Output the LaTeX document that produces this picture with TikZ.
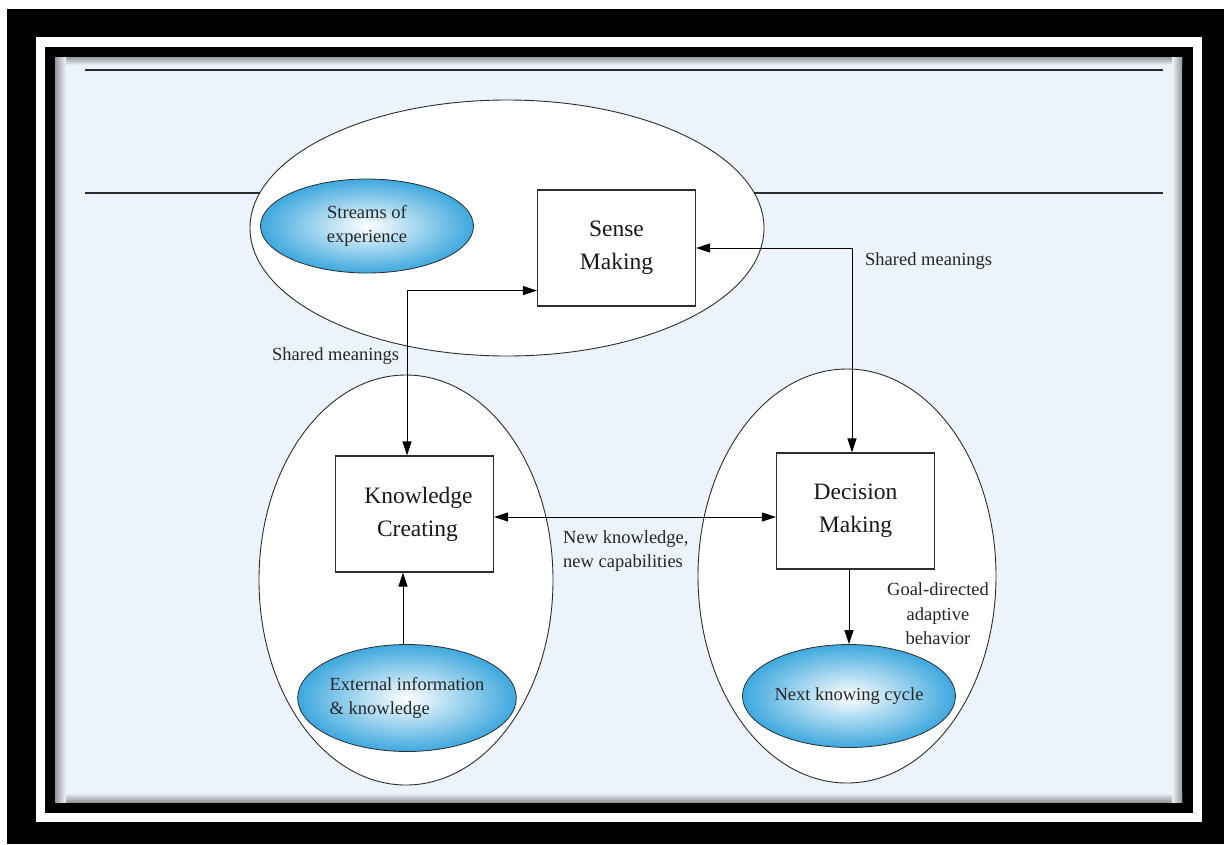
\documentclass[tikz,border=0pt]{standalone}
\usepackage{fontspec}
\setmainfont{Liberation Serif}
\usetikzlibrary{shapes.geometric,arrows.meta,calc}
\definecolor{bgblue}{RGB}{236,243,251}
\definecolor{ellblue}{RGB}{62,168,222}
\definecolor{linegray}{RGB}{45,45,45}
\definecolor{shadowgray}{RGB}{150,152,156}
\begin{document}
\begin{tikzpicture}[x=1pt,y=-1pt,
  bigell/.style={draw=linegray, line width=0.9pt, fill=white, ellipse, inner sep=0pt},
  smallell/.style={draw=linegray, line width=0.8pt, ellipse, inner sep=0pt, inner color=white, outer color=ellblue, font=\fontsize{18.5}{24.5}\selectfont, text=black!85},
  boxnode/.style={draw=linegray, line width=1.2pt, fill=white, minimum width=158pt, minimum height=116pt, inner sep=0pt, align=center, font=\fontsize{23.5}{33}\selectfont, text=black!90},
  lbl/.style={font=\fontsize{18.5}{24.5}\selectfont, inner sep=0pt, text=black!85},
  arr/.style={line width=1pt, draw=black, -{Triangle[length=14pt,width=9pt]}},
  darr/.style={line width=1pt, draw=black, {Triangle[length=14pt,width=9pt]}-{Triangle[length=14pt,width=9pt]}},
  rule/.style={draw=linegray, line width=1.4pt},
]
\useasboundingbox (0,0) rectangle (1224,844);
% frame
\fill[white] (0,0) rectangle (1224,844);
\fill[black] (7,9) rectangle (1224,844);
\fill[white] (36,37) rectangle (1202,822);
\fill[black] (45,47) rectangle (1193,813);
\fill[bgblue] (55,57) rectangle (1182,802);
\shade[top color=shadowgray, bottom color=bgblue] (55,57) rectangle (1182,65);
\shade[top color=bgblue, bottom color=shadowgray] (55,793) rectangle (1182,802);
\shade[left color=shadowgray, right color=bgblue] (55,57) rectangle (66,802);
\shade[left color=bgblue, right color=shadowgray] (1172,57) rectangle (1182,802);

% rules
\coordinate (r1a) at (85,70);
\coordinate (r1b) at (1163,70);
\coordinate (r2a) at (85,193);
\coordinate (r2b) at (1163,193);
\draw[rule] (r1a) -- (r1b);
\draw[rule] (r2a) -- (r2b);

% big ellipses
\node[bigell, minimum width=514pt, minimum height=256pt] (TE) at (507,228) {};
\node[bigell, minimum width=294pt, minimum height=410pt] (LE) at (406,580) {};
\node[bigell, minimum width=298pt, minimum height=414pt] (RE) at (847,576) {};

% small shaded ellipses
\node[smallell, minimum width=213pt, minimum height=94pt, align=center] (SE) at (367,226) {Streams of\\experience};
\node[smallell, minimum width=214pt, minimum height=107pt, align=left] (EX) at (407,698) {External information\\\& knowledge};
\node[smallell, minimum width=213pt, minimum height=103pt, align=center] (NK) at (849,696) {Next knowing cycle};

% boxes
\node[boxnode] (SM) at (616.5,248) {Sense\\Making};
\node[boxnode] (KC) at (414.5,514) {\hspace*{8pt}Knowledge\\\hspace*{6pt}Creating};
\node[boxnode] (DM) at (855.5,511) {Decision\\Making};

% connectors
\draw[darr] (SM.east) -| ([xshift=-3.5pt]DM.north);
\draw[darr] ([yshift=16pt]SM.south west) -| ([xshift=-7.5pt]KC.north);
\draw[darr] ([yshift=-3pt]KC.east) -- ([yshift=-3pt]KC.east -| DM.west);
\draw[arr] (DM.south -| NK.north) -- (NK.north);
\draw[arr] ([xshift=-4pt]EX.north) -- ([xshift=-4pt]EX.north |- KC.south);

% labels
\node[lbl, anchor=west] (L1) at (865,261) {Shared meanings};
\node[lbl, anchor=west] (L2) at (272,356) {Shared meanings};
\node[lbl, anchor=west, align=left] (L3) at (563,551) {New knowledge,\\new capabilities};
\node[lbl, align=center] (L4) at (938,614) {Goal-directed\\adaptive\\behavior};
\end{tikzpicture}
\end{document}
